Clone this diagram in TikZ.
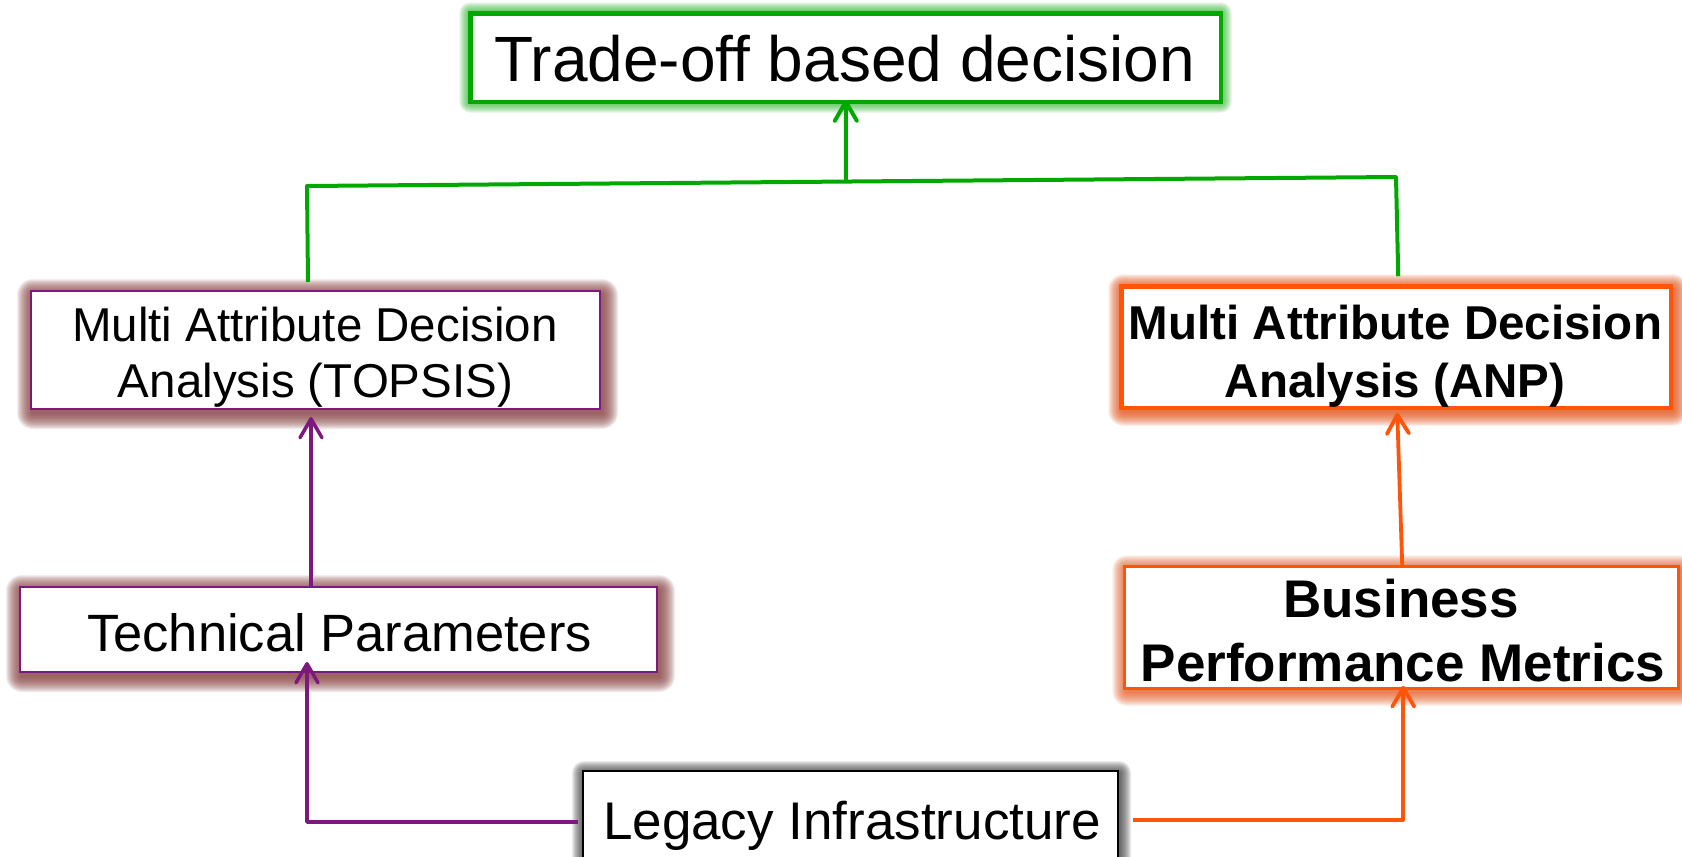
\documentclass[tikz,border=0pt]{standalone}
\usepackage{fontspec}
\setmainfont{Liberation Sans}
\usetikzlibrary{arrows.meta,calc,backgrounds}

\definecolor{decgreen}{RGB}{0,168,0}
\definecolor{madpurple}{RGB}{125,25,125}
\definecolor{bizorange}{RGB}{255,85,10}
\definecolor{leafglow}{RGB}{40,180,40}
\definecolor{plumglow}{RGB}{140,70,70}
\definecolor{emberglow}{RGB}{228,88,30}
\definecolor{ashglow}{RGB}{55,55,55}

% soft halo behind a box: node, colour, steps, opacity, dx, dy
\newcommand{\boxhalo}[6]{%
  \foreach \k in {1,...,#3}{%
    \fill[#2, opacity=#4, rounded corners=\k pt]
      ($(#1.north west)+(#5-\k,#6-\k)$) rectangle ($(#1.south east)+(#5+\k,#6+\k)$);
  }}

\begin{document}
\begin{tikzpicture}[x=1pt,y=-1pt,
  box/.style={draw, fill=white, outer sep=0pt, inner sep=0pt},
  lbl/.style={anchor=base, inner sep=0pt, text=black},
  barb/.style={-{Straight Barb[length=19pt,width=22pt,round]}},
  greenline/.style={decgreen, line width=4pt, line join=round},
  purpleline/.style={madpurple, line width=3.5pt, line join=round},
  orangeline/.style={bizorange, line width=3.8pt, line join=round}]

\useasboundingbox (0,0) rectangle (1682,857);
\clip (0,0) rectangle (1682,857);

% boxes
\node[box, draw=decgreen, line width=4.5pt, minimum width=750.5pt, minimum height=88.5pt] (top) at (845.5,57.5) {};
\node[box, draw=madpurple, line width=2.2pt, minimum width=569pt, minimum height=118pt] (topsis) at (315.5,350) {};
\node[box, draw=bizorange, line width=4.5pt, minimum width=549.5pt, minimum height=121.5pt] (anp) at (1396,347) {};
\node[box, draw=madpurple, line width=2.2pt, minimum width=637pt, minimum height=85pt] (tech) at (338.5,629.5) {};
\node[box, draw=bizorange, line width=2.6pt, minimum width=554.5pt, minimum height=122.5pt] (bus) at (1401.5,627.5) {};
\node[box, draw=black, line width=2.2pt, minimum width=535pt, minimum height=100pt] (legacy) at (850.5,821) {};

% page and halos
\begin{pgfonlayer}{background}
  \fill[white] (0,0) rectangle (1682,857);
  \boxhalo{top}{leafglow}{11}{0.1}{0}{0}
  \boxhalo{topsis}{plumglow}{16}{0.1}{2}{4}
  \boxhalo{anp}{emberglow}{15}{0.1}{2}{3}
  \boxhalo{tech}{plumglow}{16}{0.1}{2}{4}
  \boxhalo{bus}{emberglow}{14}{0.085}{2}{3}
  \boxhalo{legacy}{ashglow}{12}{0.1}{1}{2}
\end{pgfonlayer}

% labels
\node[lbl, font=\fontsize{64}{70}\selectfont] (top-t) at (844.5,81.5) {Trade-off based decision};
\node[lbl, font=\fontsize{47.5}{56}\selectfont] (topsis-t1) at (315,341) {Multi Attribute Decision};
\node[lbl, font=\fontsize{47.5}{56}\selectfont] (topsis-t2) at (315.5,397) {Analysis (TOPSIS)};
\node[lbl, font=\fontsize{47.5}{56}\bfseries] (anp-t1) at (1395.5,339) {Multi Attribute Decision};
\node[lbl, font=\fontsize{47.5}{56}\bfseries] (anp-t2) at (1395,397) {Analysis (ANP)};
\node[lbl, font=\fontsize{52.5}{60}\selectfont] (tech-t) at (339.5,651) {Technical Parameters};
\node[lbl, font=\fontsize{53}{62}\bfseries] (bus-t1) at (1401,617) {Business};
\node[lbl, font=\fontsize{53}{62}\bfseries] (bus-t2) at (1403,681) {Performance Metrics};
\node[lbl, font=\fontsize{53}{62}\selectfont] (legacy-t) at (852,839) {Legacy Infrastructure};

% attachment points
\path (topsis.north west) ++(277,-9) coordinate (topsis-up);
\path (anp.north west) ++(277,-10) coordinate (anp-up);
\coordinate (bar-l) at (307,186);
\coordinate (bar-r) at (1396,177);
\coordinate (bar-mid) at (846,181.5);
\path (top.south west) ++(375.5,-2) coordinate (top-in);
\path (tech.north west) ++(291,0) coordinate (tech-up);
\path (topsis.south west) ++(280,8) coordinate (topsis-in);
\path (bus.north west) ++(278,0) coordinate (bus-up);
\path (anp.south west) ++(276,5) coordinate (anp-in);
\path (tech.south west) ++(287,-10) coordinate (tech-in);
\path (bus.south west) ++(279,-3) coordinate (bus-in);
\path (legacy.west) ++(-5,1) coordinate (legacy-l);
\path (legacy.east) ++(15,-1) coordinate (legacy-r);

% connectors
\draw[greenline] (topsis-up) -- (bar-l) -- (bar-r) -- (anp-up);
\draw[greenline, barb] (bar-mid) -- (top-in);
\draw[purpleline, barb] (tech-up) -- (topsis-in);
\draw[orangeline, barb] (bus-up) -- (anp-in);
\draw[purpleline, barb] (legacy-l) -| (tech-in);
\draw[orangeline, barb] (legacy-r) -- (legacy-r -| bus-in) -- (bus-in);
\end{tikzpicture}
\end{document}
